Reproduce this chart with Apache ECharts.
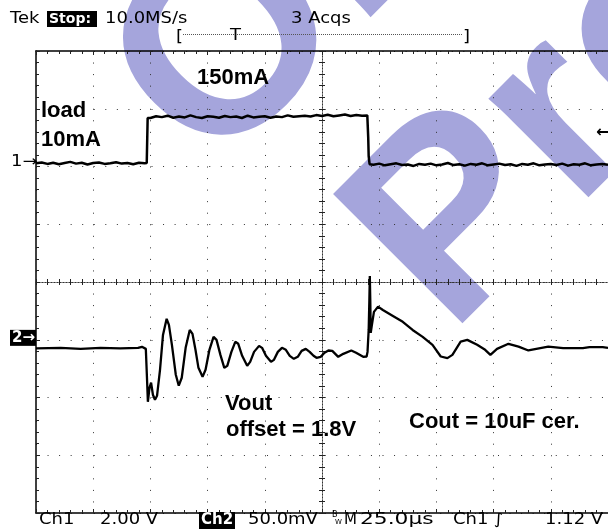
<!DOCTYPE html>
<html>
<head>
<meta charset="utf-8">
<script src="https://cdn.jsdelivr.net/npm/echarts@6/dist/echarts.min.js"></script>
<style>
  html, body { margin: 0; padding: 0; background: #fff; }
  #scope { width: 608px; height: 531px; }
</style>
</head>
<body>
<div id="scope"></div>
<script>
// time base: M 25.0us/div, 10 divisions, centre = 0
const timeMin = -125, timeMax = 125, timeStep = 25;
const ch1Scale = 2;     // V/div
const ch2Scale = 50;    // mV/div
const ch1Pos = 2.08;    // "1->" marker, divisions above centre
const ch2Pos = -0.95;   // "2->" marker (offset = 1.8V)

// Ch1: load step 10mA -> 150mA (V on the scope)
const ch1Time = [
  -125, -122.5, -120, -117.5, -115, -112.5, -110, -107.5, -105, -102.5,
  -100, -97.5, -95, -92.5, -90, -87.5, -85, -82.5, -80, -77.5,
  -76.6, -76.2,
  -75, -72.5, -70, -67.5, -65, -62.5, -60, -57.5, -55, -52.5,
  -50, -47.5, -45, -42.5, -40, -37.5, -35, -32.5, -30, -27.5,
  -25, -22.5, -20, -17.5, -15, -12.5, -10, -7.5, -5, -2.5,
  0, 2.5, 5, 7.5, 10, 12.5, 15, 17.5, 19.8,
  20.2, 20.4, 20.8, 21.4,
  22.5, 25, 27.5, 30, 32.5, 35, 37.5, 40, 42.5, 45,
  47.5, 50, 52.5, 55, 57.5, 60, 62.5, 65, 67.5, 70,
  72.5, 75, 77.5, 80, 82.5, 85, 87.5, 90, 92.5, 95,
  97.5, 100, 102.5, 105, 107.5, 110, 112.5, 115, 117.5, 120,
  122.5, 125
];
const ch1Volt = [
  -0.05, -0.02, -0.07, -0.03, -0.08, -0.04, 0.00, -0.06, -0.03, -0.09,
  -0.04, -0.02, -0.07, -0.05, -0.01, -0.06, -0.04, -0.08, -0.03, -0.05,
  -0.04, 1.52,
  1.52, 1.58, 1.55, 1.60, 1.53, 1.57, 1.54, 1.61, 1.55, 1.52,
  1.58, 1.56, 1.53, 1.59, 1.55, 1.57, 1.52, 1.60, 1.54, 1.56,
  1.58, 1.53, 1.57, 1.55, 1.61, 1.56, 1.58, 1.60, 1.57, 1.62,
  1.59, 1.63, 1.58, 1.61, 1.64, 1.59, 1.62, 1.60, 1.61,
  0.85, 0.20, -0.08, -0.11,
  -0.10, -0.06, -0.12, -0.08, -0.05, -0.11, -0.09, -0.14, -0.07, -0.10,
  -0.06, -0.12, -0.09, -0.04, -0.11, -0.08, -0.13, -0.07, -0.10, -0.05,
  -0.12, -0.09, -0.06, -0.11, -0.08, -0.14, -0.07, -0.10, -0.05, -0.12,
  -0.09, -0.07, -0.11, -0.06, -0.13, -0.08, -0.10, -0.05, -0.12, -0.09,
  -0.07, -0.10
];

// Ch2: Vout, mV around the 1.8V offset
const ch2Time = [
  -125, -114.2, -105.5, -96.8, -88.2, -80.4, -78.7, -77.0, -76.5, -76.1,
  -75.4, -74.7, -73.9, -73.0, -72.1, -70.8, -69.5, -67.9, -66.9, -65.6,
  -63.9, -62.6, -61.3, -59.6, -57.8, -56.6, -55.3, -54.0, -52.2, -50.9,
  -49.2, -47.4, -46.1, -44.4, -42.7, -41.4, -39.6, -37.9, -36.6, -34.9,
  -32.7, -31.4, -29.7, -27.5, -26.2, -24.5, -22.3, -21.0, -19.3, -17.5,
  -15.8, -14.1, -12.3, -10.6, -8.9, -7.1, -5.4, -3.7, -2.4, -0.6,
  1.1, 2.8, 4.5, 7.1, 9.3, 12.8, 14.9, 18.0, 19.5, 19.9,
  20.4, 20.7, 20.9, 21.1, 21.3, 21.7, 22.7, 24.5, 26.6, 31.0,
  35.3, 39.6, 44.0, 48.3, 51.9, 54.8, 57.0, 60.6, 63.5, 67.8,
  71.3, 73.6, 76.5, 81.5, 85.9, 90.2, 93.1, 98.9, 105.4, 114.0,
  116.9, 122.7, 125
];
const ch2mV = [
  -9.9, -9.5, -10.4, -9.5, -9.9, -9.5, -8.6, -10.4, -35.4, -56.2,
  -44.1, -39.7, -50.1, -54.4, -51.0, -28.5, 1.7, 15.6, 10.4, -6.9,
  -32.8, -42.3, -35.4, -9.5, 6.0, 2.6, -11.2, -26.8, -34.6, -28.5,
  -11.2, 0, -2.6, -15.6, -26.8, -25.1, -13.0, -4.3, -6.0, -16.4,
  -25.1, -21.6, -13.0, -7.8, -9.5, -16.4, -21.6, -19.9, -13.0, -9.5,
  -11.2, -16.4, -19.0, -17.3, -12.1, -10.4, -13.0, -16.4, -18.1, -17.3,
  -13.8, -11.8, -12.1, -17.3, -14.7, -11.8, -13.8, -17.3, -17.0, -13.0,
  6.0, 32.0, 52.7, 32.0, 3.5, 8.9, 21.6, 26.2, 23.3, 18.1,
  13.0, 6.0, 0, -6.9, -17.0, -18.4, -15.6, -4.1, -2.6, -6.9,
  -11.2, -15.6, -10.4, -6.0, -8.4, -11.8, -10.6, -8.4, -9.8, -9.8,
  -8.9, -8.9, -9.5
];

const chart = echarts.init(document.getElementById('scope'));

const dotGrid = { color: '#333', width: 1, type: [1, 10.55] };  // 5 dots per division
const frameLine = { color: '#000', width: 1.5 };
const tickStyle = { color: '#222', width: 1 };
const centreLine = { color: '#333', width: 1, type: [1, 2] };

function timeAxis(extra) {
  return Object.assign({
    type: 'value', min: timeMin, max: timeMax, interval: timeStep,
    axisLabel: { show: false },
    splitLine: { show: false }
  }, extra);
}
function divAxis(extra) {
  return Object.assign({
    type: 'value', min: -4, max: 4, interval: 1,
    axisLabel: { show: false },
    splitLine: { show: false }
  }, extra);
}

const option = {
  animation: false,
  grid: { left: 36, top: 51, width: 577, height: 462 },
  xAxis: [
    // bottom frame + vertical graticule
    timeAxis({
      position: 'bottom',
      axisLine: { onZero: false, lineStyle: frameLine },
      axisTick: { inside: true, length: 4, lineStyle: tickStyle },
      minorTick: { show: true, splitNumber: 5, length: 3, lineStyle: tickStyle },
      splitLine: { show: true, lineStyle: dotGrid }
    }),
    // top frame
    timeAxis({
      position: 'top',
      axisLine: { onZero: false, lineStyle: frameLine },
      axisTick: { inside: true, length: 4, lineStyle: tickStyle },
      minorTick: { show: true, splitNumber: 5, length: 3, lineStyle: tickStyle }
    }),
    // centre line, ticks down / up
    timeAxis({
      position: 'bottom',
      axisLine: { onZero: true, onZeroAxisIndex: 0, lineStyle: centreLine },
      axisTick: { length: 3, lineStyle: tickStyle },
      minorTick: { show: true, splitNumber: 5, length: 3, lineStyle: tickStyle }
    }),
    timeAxis({
      position: 'top',
      axisLine: { onZero: true, onZeroAxisIndex: 0, lineStyle: centreLine },
      axisTick: { length: 3, lineStyle: tickStyle },
      minorTick: { show: true, splitNumber: 5, length: 3, lineStyle: tickStyle }
    })
  ],
  yAxis: [
    // left frame + horizontal graticule
    divAxis({
      position: 'left',
      axisLine: { onZero: false, lineStyle: frameLine },
      axisTick: { inside: true, length: 4, lineStyle: tickStyle },
      minorTick: { show: true, splitNumber: 5, length: 3, lineStyle: tickStyle },
      splitLine: { show: true, lineStyle: dotGrid }
    }),
    // centre line, ticks left / right
    divAxis({
      position: 'left',
      axisLine: { onZero: true, onZeroAxisIndex: 0, lineStyle: centreLine },
      axisTick: { length: 3, lineStyle: tickStyle },
      minorTick: { show: true, splitNumber: 5, length: 3, lineStyle: tickStyle }
    }),
    divAxis({
      position: 'right',
      axisLine: { onZero: true, onZeroAxisIndex: 0, lineStyle: centreLine },
      axisTick: { length: 3, lineStyle: tickStyle },
      minorTick: { show: true, splitNumber: 5, length: 3, lineStyle: tickStyle }
    }),
    // channel scales
    { type: 'value', show: false, min: (-4 - ch1Pos) * ch1Scale, max: (4 - ch1Pos) * ch1Scale },
    { type: 'value', show: false, min: (-4 - ch2Pos) * ch2Scale, max: (4 - ch2Pos) * ch2Scale }
  ],
  series: [
    {
      name: 'Ch1', type: 'line', xAxisIndex: 0, yAxisIndex: 3,
      data: ch1Time.map((t, i) => [t, ch1Volt[i]]),
      showSymbol: false, z: 5,
      lineStyle: { color: '#000', width: 2.5 }
    },
    {
      name: 'Ch2', type: 'line', xAxisIndex: 0, yAxisIndex: 4,
      data: ch2Time.map((t, i) => [t, ch2mV[i]]),
      showSymbol: false, z: 5,
      lineStyle: { color: '#000', width: 2.3 }
    }
  ]
};
chart.setOption(option);

// marker rows come from the channel scales
const y1 = chart.convertToPixel({ yAxisIndex: 3 }, 0);
const y2 = chart.convertToPixel({ yAxisIndex: 4 }, 0);
const yTrig = chart.convertToPixel({ yAxisIndex: 3 }, 1.12);

const wmFont = 'bold 266px "Liberation Sans", Arial, sans-serif';
const noteFont = 'bold 22px "Liberation Sans", Arial, sans-serif';
const tekFont = '15px "DejaVu Sans", sans-serif';

function tek(x, y, text, sx) {
  return { type: 'text', x: x, y: y, scaleX: sx || 1.2, z: 100,
    style: { text: text, font: tekFont, fill: '#000', verticalAlign: 'middle' } };
}
function note(x, y, text) {
  return { type: 'text', x: x, y: y, z: 100,
    style: { text: text, font: noteFont, fill: '#000', verticalAlign: 'middle' } };
}
function box(x, y, w, h) {
  return { type: 'rect', z: 99, shape: { x: x, y: y, width: w, height: h }, style: { fill: '#000' } };
}

chart.setOption({
  graphic: { elements: [
    // watermark
    { type: 'text', x: 160, y: 124, rotation: Math.PI / 4, z: -1,
      style: { text: 'Obsolete', font: wmFont, fill: '#a5a5dc', verticalAlign: 'middle' } },
    { type: 'text', x: 398, y: 284, rotation: Math.PI / 4, z: -1,
      style: { text: 'Product', font: wmFont, fill: '#a5a5dc', verticalAlign: 'middle' } },

    // header
    tek(10, 19, 'Tek'),
    box(47, 11, 50, 16),
    { type: 'text', x: 49, y: 19, z: 100,
      style: { text: 'Stop:', font: 'bold 14px "DejaVu Sans", sans-serif', fill: '#fff', verticalAlign: 'middle' } },
    tek(105, 19, '10.0MS/s'),
    tek(291, 19, '3 Acqs'),
    tek(176, 37, '['),
    tek(463, 37, ']'),
    tek(230, 36, 'T'),
    { type: 'line', z: 99, shape: { x1: 183, y1: 34.5, x2: 463, y2: 34.5 },
      style: { stroke: '#555', lineWidth: 1, lineDash: [1, 1] } },

    // channel markers
    tek(11, y1, '1\u2192'),
    box(10, y2 - 7, 26, 16),
    { type: 'text', x: 12, y: y2 + 1, z: 100,
      style: { text: '2\u2192', font: 'bold 15px "DejaVu Sans", sans-serif', fill: '#fff', verticalAlign: 'middle' } },
    { type: 'text', x: 596, y: yTrig + 3, z: 100,
      style: { text: '\u2190', font: 'bold 16px "DejaVu Sans", sans-serif', fill: '#000', verticalAlign: 'middle' } },

    // annotations
    note(197, 78, '150mA'),
    note(41, 111, 'load'),
    note(41, 140, '10mA'),
    note(225, 404, 'Vout'),
    note(226, 430, 'offset = 1.8V'),
    note(409, 422, 'Cout = 10uF cer.'),

    // footer
    tek(39, 520, 'Ch1'),
    tek(100, 520, '2.00 V'),
    box(199, 512, 36, 17),
    { type: 'text', x: 201, y: 520, z: 100,
      style: { text: 'Ch2', font: 'bold 15px "DejaVu Sans", sans-serif', fill: '#fff', verticalAlign: 'middle' } },
    tek(248, 520, '50.0mV'),
    { type: 'text', x: 332, y: 515, z: 100,
      style: { text: 'B', font: '8px "DejaVu Sans", sans-serif', fill: '#000', verticalAlign: 'middle' } },
    { type: 'text', x: 335, y: 522, z: 100,
      style: { text: 'W', font: '7px "DejaVu Sans", sans-serif', fill: '#000', verticalAlign: 'middle' } },
    tek(344, 520, 'M', 1),
    tek(360, 520, '25.0\u00b5s', 1.45),
    tek(453, 520, 'Ch1'),
    tek(494, 520, '\u222b'),
    tek(545, 520, '1.12 V')
  ] }
});
</script>
</body>
</html>
